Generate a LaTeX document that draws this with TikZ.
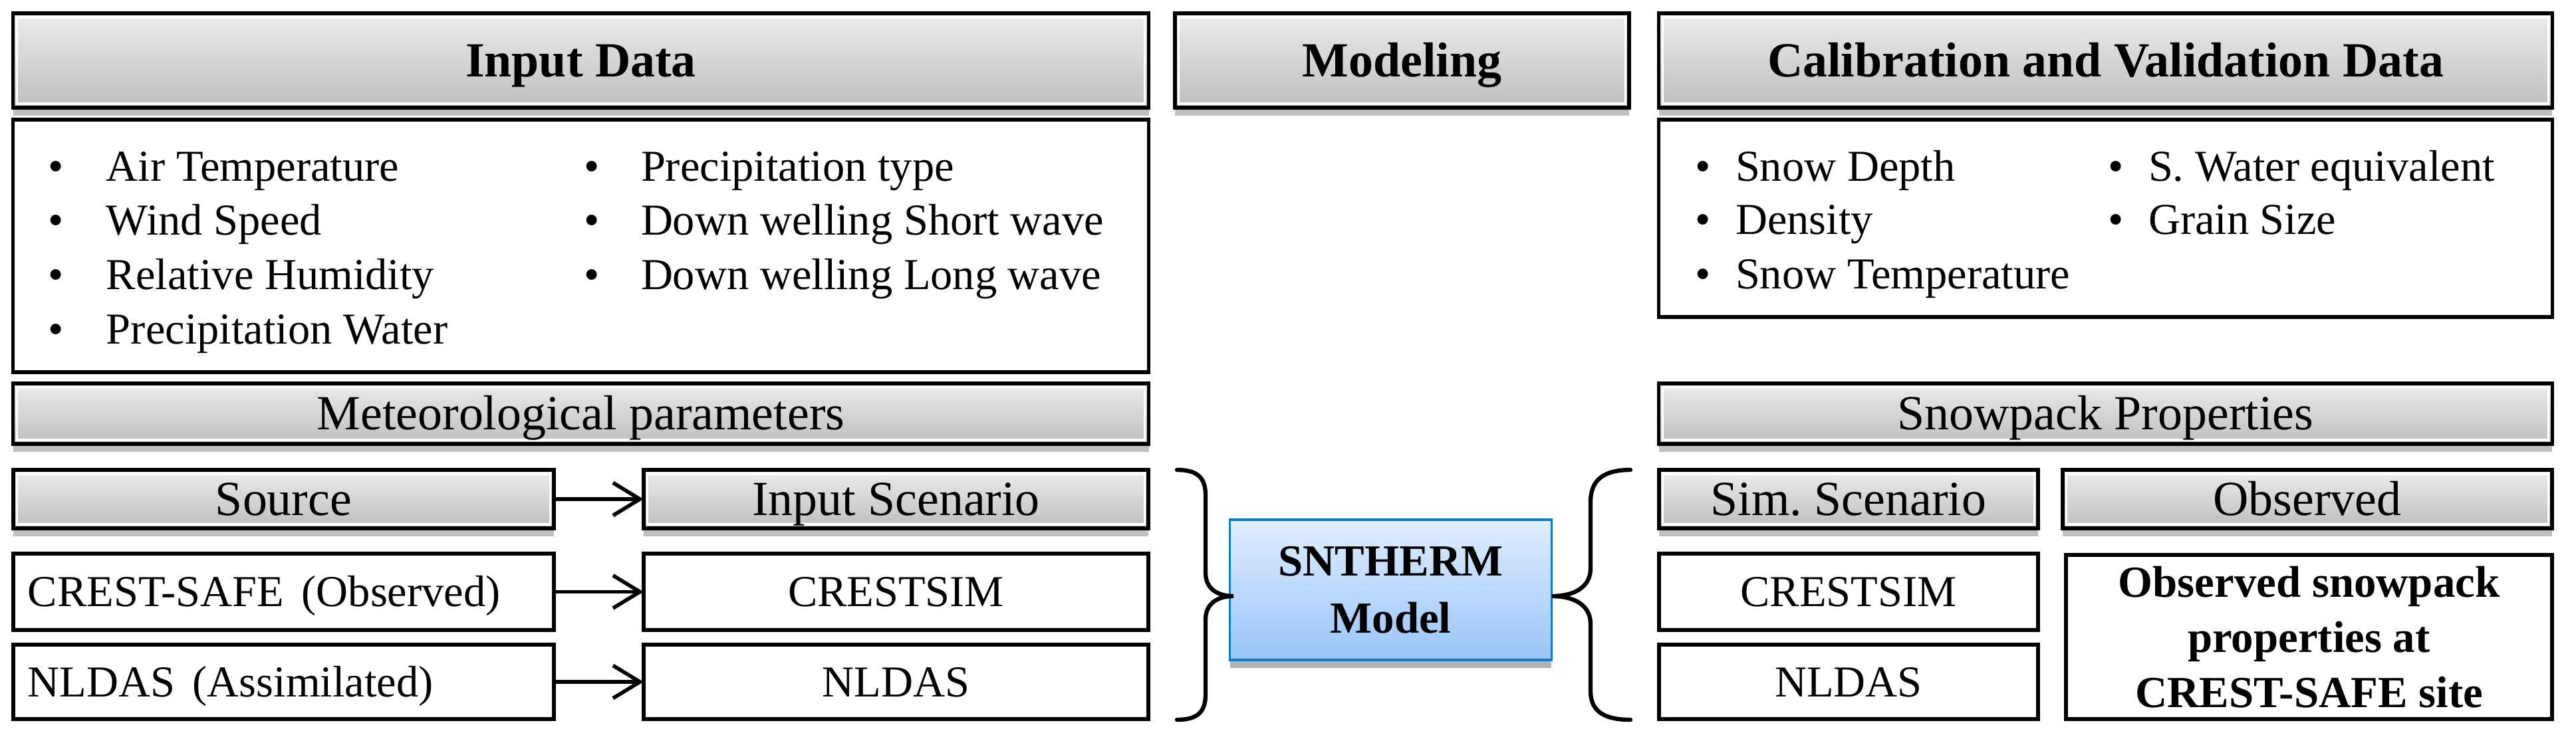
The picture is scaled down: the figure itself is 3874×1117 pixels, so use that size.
\documentclass[tikz,border=0pt]{standalone}
\usepackage{fontspec}
\setmainfont{Liberation Serif}
\usetikzlibrary{shadows,arrows.meta}
\definecolor{hdrtop}{RGB}{236,236,236}
\definecolor{hdrbot}{RGB}{190,190,190}
\definecolor{blueedge}{RGB}{16,124,200}
\definecolor{bluetop}{RGB}{224,238,255}
\definecolor{bluebot}{RGB}{152,196,248}
\begin{document}
\begin{tikzpicture}[x=0.01cm,y=-0.01cm,
  box/.style={draw=black,line width=1.6pt,inner sep=0pt,outer sep=0pt},
  bevel/.style={path picture={\draw[white,line width=0.9pt] ([xshift=1.7pt,yshift=-1.7pt]path picture bounding box.north west) rectangle ([xshift=-1.7pt,yshift=1.7pt]path picture bounding box.south east);}},
  grayhdr/.style={box,bevel,top color=hdrtop,bottom color=hdrbot,drop shadow={shadow xshift=0pt,shadow yshift=-3.5pt,opacity=0.25,fill=black}},
  bighdr/.style={grayhdr,font=\bfseries\fontsize{21}{25}\selectfont,text height=13.9pt,text depth=0pt},
  subhdr/.style={grayhdr,font=\fontsize{21}{25}\selectfont,text height=13.9pt,text depth=0pt},
  whitebox/.style={box,fill=white,font=\fontsize{18.9}{23.2}\selectfont,text height=12.5pt,text depth=0pt},
  leftbox/.style={whitebox,align=left,inner xsep=0.22cm},
  item/.style={anchor=base west,inner sep=0pt,outer sep=0pt,font=\fontsize{18.9}{23.2}\selectfont},
  model/.style={draw=blueedge,line width=0.9pt,top color=bluetop,bottom color=bluebot,inner sep=0pt,
     drop shadow={shadow xshift=0pt,shadow yshift=-3.5pt,opacity=0.3,fill=black},
     font=\bfseries\fontsize{19}{24.5}\selectfont,align=center},
  flow/.style={line width=1.6pt,-{Straight Barb[length=11.5pt,width=14pt,line width=1.6pt]}},
  brace/.style={line width=1.8pt,line cap=round}
]
\useasboundingbox[fill=white] (0,0) rectangle (3874,1117);

% top headers
\node[bighdr,minimum width=17.07cm,minimum height=1.42cm] (hIn) at (873.5,91) {Input Data};
\node[bighdr,minimum width=6.83cm,minimum height=1.42cm] (hMod) at (2108.5,91) {Modeling};
\node[bighdr,minimum width=13.43cm,minimum height=1.42cm] (hCal) at (3166.5,91) {Calibration and Validation Data};

% list boxes
\node[box,fill=white,minimum width=17.07cm,minimum height=3.80cm] (lIn) at (873.5,370) {};
\node[box,fill=white,minimum width=13.43cm,minimum height=2.97cm] (lCal) at (3166.5,328.5) {};

\node[item] (i1) at (72,272) {\makebox[0.88cm][l]{•}Air Temperature};
\node[item] (i2) at (72,353.7) {\makebox[0.88cm][l]{•}Wind Speed};
\node[item] (i3) at (72,435.4) {\makebox[0.88cm][l]{•}Relative Humidity};
\node[item] (i4) at (72,517.1) {\makebox[0.88cm][l]{•}Precipitation Water};
\node[item] (i5) at (878,272) {\makebox[0.86cm][l]{•}Precipitation type};
\node[item] (i6) at (878,353.7) {\makebox[0.86cm][l]{•}Down welling Short wave};
\node[item] (i7) at (878,435.4) {\makebox[0.86cm][l]{•}Down welling Long wave};

\node[item] (c1) at (2549,272) {\makebox[0.61cm][l]{•}Snow Depth};
\node[item] (c2) at (2549,352) {\makebox[0.61cm][l]{•}Density};
\node[item] (c3) at (2549,434) {\makebox[0.61cm][l]{•}Snow Temperature};
\node[item] (c4) at (3170,272) {\makebox[0.61cm][l]{•}S.\ Water equivalent};
\node[item] (c5) at (3170,352) {\makebox[0.61cm][l]{•}Grain Size};

% sub headers
\node[subhdr,minimum width=17.07cm,minimum height=0.91cm] (hMet) at (873.5,622.5) {Meteorological parameters};
\node[subhdr,minimum width=13.43cm,minimum height=0.91cm] (hSnow) at (3166.5,622.5) {Snowpack Properties};

\node[subhdr,minimum width=8.13cm,minimum height=0.88cm] (hSrc) at (426.5,751) {Source};
\node[subhdr,minimum width=7.59cm,minimum height=0.88cm] (hInS) at (1347.5,751) {Input Scenario};
\node[subhdr,minimum width=5.70cm,minimum height=0.88cm] (hSim) at (2780,751) {Sim.\ Scenario};
\node[subhdr,minimum width=7.36cm,minimum height=0.88cm] (hObs) at (3470,751) {Observed};

% data boxes
\node[leftbox,text width=7.69cm,minimum height=1.15cm] (bCS) at (426.5,890.5) {CREST-SAFE\hspace{0.4em}(Observed)};
\node[whitebox,minimum width=7.59cm,minimum height=1.15cm] (bCSim) at (1347.5,890.5) {CRESTSIM};
\node[leftbox,text width=7.69cm,minimum height=1.12cm] (bNL) at (426.5,1026) {NLDAS\hspace{0.4em}(Assimilated)};
\node[whitebox,minimum width=7.59cm,minimum height=1.12cm] (bNLs) at (1347.5,1026) {NLDAS};

\node[whitebox,minimum width=5.70cm,minimum height=1.15cm] (bSim1) at (2780,890.5) {CRESTSIM};
\node[whitebox,minimum width=5.70cm,minimum height=1.12cm] (bSim2) at (2780,1026) {NLDAS};
\node[box,fill=white,minimum width=7.31cm,minimum height=2.47cm,align=center,
      font=\bfseries\fontsize{19}{23.6}\selectfont] (bObs) at (3472.5,958.5)
      {Observed snowpack\\properties at\\CREST-SAFE site};

% model
\node[model,minimum width=4.83cm,minimum height=2.11cm] (sn) at (2091.5,887.5) {SNTHERM\\Model};

% arrows
\draw[flow] (hSrc) -- (hInS);
\draw[flow] (bCS) -- (bCSim);
\draw[flow] (bNL) -- (bNLs);

% braces
\draw[brace] (1770,707) .. controls (1800,707) and (1813,718) .. (1813,745)
  -- (1813,862) .. controls (1813,885) and (1830,897) .. (1855,897)
  .. controls (1830,897) and (1813,909) .. (1813,932)
  -- (1813,1045) .. controls (1813,1072) and (1800,1083) .. (1770,1083);
\draw[brace] (2452,707) .. controls (2412,707) and (2392,722) .. (2392,755)
  -- (2392,855) .. controls (2392,885) and (2365,897) .. (2334,897)
  .. controls (2365,897) and (2392,909) .. (2392,939)
  -- (2392,1040) .. controls (2392,1070) and (2412,1083) .. (2452,1083);
\end{tikzpicture}
\end{document}
